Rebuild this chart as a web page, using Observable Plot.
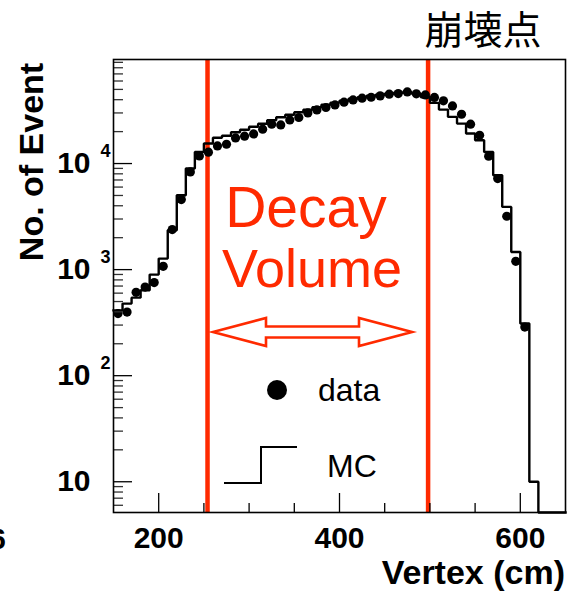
<!DOCTYPE html>
<html><head><meta charset="utf-8">
<script src="https://cdn.jsdelivr.net/npm/d3@7"></script>
<script src="https://cdn.jsdelivr.net/npm/@observablehq/plot@0.6"></script>
<style>body{margin:0;background:#fff} svg{display:block}</style>
</head><body><div id="chart"></div>
<script>
// ---- data ----
const binCenters = [155,165,175,185,195,205,215,225,235,245,255,265,275,285,295,305,315,325,335,345,
  355,365,375,385,395,405,415,425,435,445,455,465,475,485,495,505,515,525,535,545,
  555,565,575,585,595,605,615,625,635,645];
const binWidth = 10;
const dataCounts = [385,398,611,685,754,1074,2384,4571,8337,11800,12790,14660,15210,17450,18110,19020,21070,23500,23130,25780,
  27170,30000,32060,33740,35730,37860,39810,41300,42170,43450,45080,45710,47320,45390,44360,41980,38990,34920,29170,23500,
  18490,11720,7220,3184,1197,287,null,null,null,null];
const mcCounts = [413,478,544,638,897,1270,2350,5020,8970,12860,15450,17500,18290,19730,20840,22230,23730,25600,27330,28860,
  30480,32180,33990,35880,37490,39110,40850,42200,43620,44570,45520,46530,47080,45520,42200,37300,32250,27540,23800,19190,
  16600,12860,7760,3900,1466,310,10,0,0,0];
const decayEdges = [254, 498];
const xMajorTicks = [200,400,600];
const xMinorTicks = [250,300,350,450,500,550];
const yMajorTicks = [10,100,1000,10000];
const yMajorBase = ["10","10","10","10"];
const yMajorExp = ["","2","3","4"];
const yMinorTicks = [6,7,8,9,20,30,40,50,60,70,80,90,200,300,400,500,600,700,800,900,
  2000,3000,4000,5000,6000,7000,8000,9000,20000,30000,40000,50000,60000,70000,80000,90000];
const xDomain = [150, 650];
const yDomain = [5.13, 95700];
const titleText = "崩壊点";
const yTitle = "No. of Event";
const xTitle = "Vertex (cm)";
const decayLines = ["Decay", "Volume"];
const legendLabels = ["data", "MC"];

// ---- layout ----
const W = 567, H = 596;
const mL = 113, mR = 2, mT = 59, mB = 84;
const frameW = W - mL - mR, frameH = H - mT - mB;
const RED = "#ff2a00";
const FONT = "'Liberation Sans', Arial, Helvetica, sans-serif";

const pts = binCenters.map((c, i) => ({x: c, y: dataCounts[i]})).filter(d => d.y != null && d.y > 0);
const mcPath = binCenters.flatMap((c, i) => {
  const v = Math.max(mcCounts[i], yDomain[0]);
  return [{x: c - binWidth / 2, y: v}, {x: c + binWidth / 2, y: v}];
});
const yMajor = yMajorTicks.map((v, i) => ({v, base: yMajorBase[i], exp: yMajorExp[i]}));

const plot = Plot.plot({
  width: W, height: H,
  marginLeft: mL, marginRight: mR, marginTop: mT, marginBottom: mB,
  x: {domain: xDomain, axis: null},
  y: {type: "log", domain: yDomain, axis: null},
  style: {fontFamily: FONT, background: "white", color: "black", overflow: "visible"},
  marks: [
    Plot.ruleX(decayEdges, {x: d => d, stroke: RED, strokeWidth: 4.5}),
    Plot.line(mcPath, {x: "x", y: "y", stroke: "black", strokeWidth: 2.4, strokeLinejoin: "miter", strokeLinecap: "square"}),
    Plot.dot(pts, {x: "x", y: "y", r: 4.6, fill: "black", stroke: null}),
    // inward ticks
    Plot.tickX(xMajorTicks, {x: d => d, stroke: "black", strokeWidth: 1.3, insetTop: frameH - 19}),
    Plot.tickX(xMinorTicks, {x: d => d, stroke: "black", strokeWidth: 1.3, insetTop: frameH - 9}),
    Plot.tickY(yMajorTicks, {y: d => d, stroke: "black", strokeWidth: 1.3, insetRight: frameW - 19}),
    Plot.tickY(yMinorTicks, {y: d => d, stroke: "#333", strokeWidth: 1.3, insetRight: frameW - 10}),
    Plot.frame({stroke: "black", strokeWidth: 1.6}),
    // tick labels
    Plot.text(xMajorTicks, {x: d => d, frameAnchor: "bottom", dy: 26, text: d => String(d),
      fontSize: 30, fontWeight: "bold", lineAnchor: "middle", fill: "black"}),
    Plot.text(yMajor, {y: "v", frameAnchor: "left", dx: -23, text: "base", textAnchor: "end",
      fontSize: 30, fontWeight: "bold", lineAnchor: "middle", fill: "black"}),
    Plot.text(yMajor, {y: "v", frameAnchor: "left", dx: -13, dy: -12, text: "exp", textAnchor: "start",
      fontSize: 18, fontWeight: "bold", lineAnchor: "middle", fill: "black"})
  ]
});

const svg = d3.select(plot);
const g = svg.append("g").attr("text-anchor", "start");
// title
g.append("text").attr("x", 483).attr("y", 44).attr("text-anchor", "middle")
  .style("font-family", "'Noto Sans CJK JP', 'Noto Sans CJK SC', sans-serif")
  .style("font-size", "39px").style("font-weight", "400").text(titleText);
// y title
g.append("text").attr("transform", "translate(43,162) rotate(-90)").attr("text-anchor", "middle")
  .style("font-family", FONT).style("font-size", "34px").style("font-weight", "bold").text(yTitle);
// x title
g.append("text").attr("x", 565).attr("y", 584).attr("text-anchor", "end")
  .style("font-family", FONT).style("font-size", "34px").style("font-weight", "bold").text(xTitle);
// cut label at far left
g.append("text").attr("x", 6).attr("y", 549).attr("text-anchor", "end")
  .style("font-family", FONT).style("font-size", "30px").style("font-weight", "bold").text("6");
// Decay Volume
g.append("text").attr("x", 306).attr("y", 227).attr("text-anchor", "middle").attr("fill", RED)
  .style("font-family", FONT).style("font-size", "57px").text(decayLines[0]);
g.append("text").attr("x", 312).attr("y", 287).attr("text-anchor", "middle").attr("fill", RED)
  .style("font-family", FONT).style("font-size", "54px").text(decayLines[1]);
// hollow double arrow
const ay = 332;
g.append("path")
  .attr("d", `M213,${ay} L266,${ay-14} L266,${ay-5.5} L359,${ay-5.5} L359,${ay-14} L412,${ay} L359,${ay+14} L359,${ay+5.5} L266,${ay+5.5} L266,${ay+14} Z`)
  .attr("fill", "white").attr("stroke", RED).attr("stroke-width", 2.6).attr("stroke-linejoin", "miter");
// legend
g.append("circle").attr("cx", 277).attr("cy", 390).attr("r", 10).attr("fill", "black");
g.append("text").attr("x", 318).attr("y", 401).attr("text-anchor", "start")
  .style("font-family", FONT).style("font-size", "32px").text(legendLabels[0]);
g.append("path").attr("d", "M224,483 H261 V447 H297").attr("fill", "none").attr("stroke", "black").attr("stroke-width", 2);
g.append("text").attr("x", 327).attr("y", 477).attr("text-anchor", "start")
  .style("font-family", FONT).style("font-size", "32px").text(legendLabels[1]);

document.getElementById("chart").appendChild(plot);
</script>
</body></html>
